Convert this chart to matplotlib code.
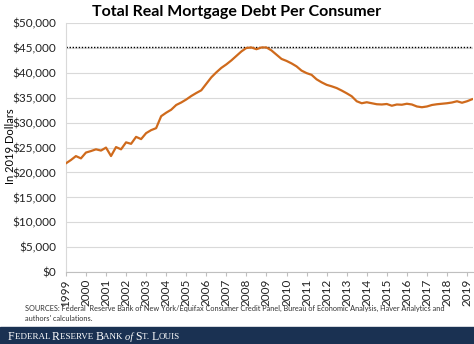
import matplotlib
matplotlib.use("Agg")
import matplotlib.pyplot as plt
import numpy as np
from matplotlib.patches import Rectangle

# quarterly real mortgage debt per consumer (2019 dollars), 1999Q1 - 2019Q2
debt = [21830, 22500, 23290, 22830, 24000, 24300, 24650, 24400,
        25000, 23300, 25100, 24650, 26050, 25750, 27150, 26700,
        27900, 28500, 28900, 31300, 32000, 32600, 33550, 34050,
        34650, 35350, 35950, 36500, 37800, 39100, 40100, 41000,
        41700, 42500, 43400, 44300, 45000, 45100, 44750, 45100,
        45100, 44500, 43650, 42800, 42400, 41900, 41300, 40450,
        39950, 39600, 38700, 38100, 37600, 37300, 36950, 36450,
        35900, 35300, 34300, 33900, 34100, 33900, 33700, 33650,
        33750, 33400, 33650, 33600, 33800, 33650, 33250, 33100,
        33250, 33550, 33700, 33800, 33900, 34050, 34300, 34000,
        34300, 34700]
start_year = 1999
years = list(range(1999, 2020))
yticks = list(range(0, 50001, 5000))

title = "Total Real Mortgage Debt Per Consumer"
ylabel = "In 2019 Dollars"
source = ("SOURCES: Federal  Reserve Bank of New York/Equifax Consumer Credit Panel, Bureau of Economic Analysis, Haver Analytics and\n"
          "authors' calculations.")

plt.rcParams['font.family'] = ['Lato', 'DejaVu Sans']

fig = plt.figure(figsize=(4.74, 3.44), dpi=100)
ax = fig.add_axes([0.139, 0.209, 0.859, 0.724])

t = start_year + np.arange(len(debt)) / 4.0
ax.plot(t, debt, color='#cf6a1c', lw=1.6, solid_joinstyle='round', zorder=3)
ax.axhline(max(debt), color='black', ls=(0, (1, 1.2)), lw=1.0, zorder=2)

ax.set_xlim(1999, 2019.3)
ax.set_ylim(0, 50000)
ax.set_yticks(yticks)
ax.set_yticklabels([f"${v:,}" for v in yticks], fontsize=8.5, color='#222222')
ax.set_xticks(years)
ax.set_xticklabels([str(y) for y in years], rotation=90, fontsize=8.5, color='#222222')
ax.grid(axis='y', color='#d9d9d9', lw=0.8)
ax.set_axisbelow(True)
for s in ['top', 'right']:
    ax.spines[s].set_visible(False)
ax.spines['left'].set_color('#d9d9d9')
ax.spines['bottom'].set_color('#bfbfbf')
ax.tick_params(axis='y', length=0, pad=7)
ax.tick_params(axis='x', length=3, color='#bfbfbf', pad=2)

fig.text(0.5, 0.965, title, ha='center', va='center', fontsize=11.5, fontweight='bold')
fig.text(0.022, 0.575, ylabel, rotation=90, ha='center', va='center', fontsize=8)
fig.text(0.053, 0.113, source, ha='left', va='top', fontsize=5.35, color='#333333', linespacing=1.55)

# footer band
fig.add_artist(Rectangle((0, 0), 1, 0.048, transform=fig.transFigure, color='#1a3152', zorder=5))
pieces = [("F", 8.5), ("EDERAL ", 6.5), ("R", 8.5), ("ESERVE ", 6.5), ("B", 8.5), ("ANK ", 6.5),
          ("of ", 7.5), ("S", 8.5), ("T. ", 6.5), ("L", 8.5), ("OUIS", 6.5)]
renderer = fig.canvas.get_renderer()
x = 8.0 / 474
for txt, size in pieces:
    style = 'italic' if txt.startswith('of') else 'normal'
    tx = fig.text(x, 0.024, txt, ha='left', va='center_baseline', fontsize=size, color='white',
                  family='Liberation Serif', style=style, zorder=6)
    bb = tx.get_window_extent(renderer)
    x += bb.width / fig.bbox.width

fig.savefig("out.png", dpi=100)
